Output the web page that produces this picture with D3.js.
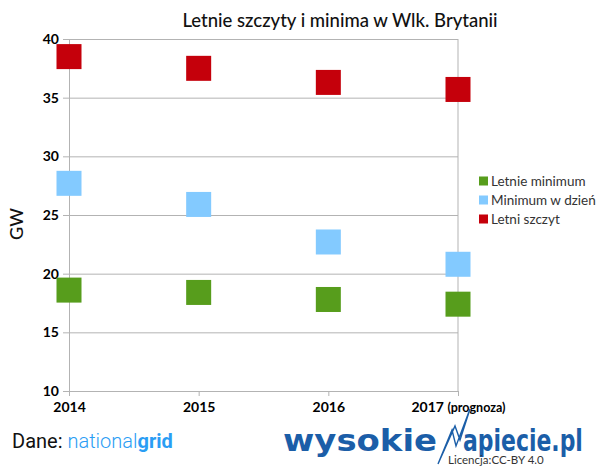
<!DOCTYPE html>
<html>
<head>
<meta charset="utf-8">
<script src="https://cdn.jsdelivr.net/npm/d3@7"></script>
<style>
  body { margin: 0; background: #fff; }
  svg { display: block; font-family: Lato, "Open Sans", sans-serif; }
</style>
</head>
<body>
<svg width="600" height="467"></svg>
<script>
const years = ["2014", "2015", "2016", "2017 (prognoza)"];
const seriesNames = ["Letnie minimum", "Minimum w dzień", "Letni szczyt"];
const letnieMinimum = [18.6, 18.4, 17.8, 17.4];
const minimumWDzien = [27.7, 25.9, 22.7, 20.8];
const letniSzczyt = [38.5, 37.5, 36.3, 35.7];
const yTicks = [10, 15, 20, 25, 30, 35, 40];
const colors = ["#579d1c", "#83caff", "#c5000b"];

const margin = { top: 39, left: 69, right: 142, bottom: 76 };
const width = 600 - margin.left - margin.right;
const height = 467 - margin.top - margin.bottom;

const svg = d3.select("svg");
const g = svg.append("g").attr("transform", `translate(${margin.left},${margin.top})`);

const x = d3.scalePoint().domain(years).range([0, width]);
const y = d3.scaleLinear().domain([10, 40]).range([height, 0]);

// horizontal grid
g.append("g")
    .call(d3.axisLeft(y).tickValues(yTicks).tickSize(-width).tickFormat(""))
    .call(a => a.select(".domain").remove())
    .selectAll("line").attr("stroke", "#b3b3b3");

// right border of plot
g.append("line")
    .attr("x1", width).attr("x2", width)
    .attr("y1", 0).attr("y2", height)
    .attr("stroke", "#b3b3b3");

// y axis
g.append("g")
    .call(d3.axisLeft(y).tickValues(yTicks).tickSize(6).tickSizeOuter(0).tickPadding(4))
    .call(a => a.select(".domain").attr("stroke", "#b3b3b3"))
    .call(a => a.selectAll("line").attr("stroke", "#b3b3b3"))
    .call(a => a.selectAll("text")
        .attr("fill", "#000").attr("font-size", 14).attr("font-weight", "bold")
        .attr("font-family", "Lato, sans-serif"));

// x axis
const xAxis = g.append("g")
    .attr("transform", `translate(0,${height})`)
    .call(d3.axisBottom(x).tickSize(5).tickSizeOuter(0).tickPadding(6))
    .call(a => a.select(".domain").attr("stroke", "#b3b3b3"))
    .call(a => a.selectAll("line").attr("stroke", "#b3b3b3"))
    .call(a => a.selectAll("text")
        .attr("fill", "#000").attr("font-size", 14).attr("font-weight", "bold")
        .attr("font-family", "Lato, sans-serif"));

// the "(prognoza)" part is a bit smaller
xAxis.selectAll(".tick text").filter(d => d === "2017 (prognoza)")
    .text(null)
    .call(t => {
        t.append("tspan").text("2017 ");
        t.append("tspan").attr("font-size", 12.5).text("(prognoza)");
    });

// markers
const allSeries = [letnieMinimum, minimumWDzien, letniSzczyt];
const sq = 25;
allSeries.forEach((vals, i) => {
    g.append("g").selectAll("rect")
        .data(vals)
        .join("rect")
        .attr("x", (d, j) => x(years[j]) - sq / 2)
        .attr("y", d => y(d) - sq / 2)
        .attr("width", sq)
        .attr("height", sq)
        .attr("fill", colors[i]);
});

// title
svg.append("text")
    .attr("x", 340).attr("y", 27)
    .attr("text-anchor", "middle")
    .attr("font-size", 18.5)
    .attr("font-weight", 500)
    .attr("fill", "#111")
    .text("Letnie szczyty i minima w Wlk. Brytanii");

// y label
svg.append("text")
    .attr("transform", "translate(23,224) rotate(-90)")
    .attr("text-anchor", "middle")
    .attr("font-size", 18)
    .attr("font-weight", 500)
    .attr("fill", "#111")
    .text("GW");

// legend
const legend = svg.append("g").attr("transform", "translate(479,181)");
seriesNames.forEach((name, i) => {
    const row = legend.append("g").attr("transform", `translate(0,${i * 19})`);
    row.append("rect").attr("x", 0).attr("y", -4.5).attr("width", 9).attr("height", 9).attr("fill", colors[i]);
    row.append("text").attr("x", 12).attr("y", 5)
        .attr("font-size", 13.5).attr("fill", "#333").text(name);
});

// source
const src = svg.append("text").attr("x", 12).attr("y", 448)
    .attr("font-size", 20).attr("font-family", "Roboto, sans-serif");
src.append("tspan").attr("fill", "#111").text("Dane: ");
src.append("tspan").attr("fill", "#2a9df4").attr("font-weight", 300).text("national");
src.append("tspan").attr("fill", "#2a9df4").attr("font-weight", "bold").text("grid");

// logo, squeezed horizontally to fit
const logo = svg.append("g").attr("fill", "#1b5ea8").attr("font-weight", "bold")
    .attr("font-family", "'DejaVu Sans', sans-serif").attr("font-size", 30);
function logoPart(str, x0, y0, target) {
    const t = logo.append("text").text(str);
    const w = t.node().getComputedTextLength();
    t.attr("transform", `translate(${x0},${y0}) scale(${target / w},1)`);
}
logoPart("wysokie", 283, 451, 154);
logoPart("apiecie.pl", 463, 451, 120);
logo.append("path")
    .attr("d", "M438,464 L452,430 L456,446 L470,409 L460,440 L455,426 Z")
    .attr("fill", "#fff").attr("stroke", "#1b5ea8").attr("stroke-width", 1.4);

svg.append("text")
    .attr("x", 448).attr("y", 464)
    .attr("font-size", 11.5)
    .attr("fill", "#333")
    .text("Licencja:CC-BY 4.0");
</script>
</body>
</html>
